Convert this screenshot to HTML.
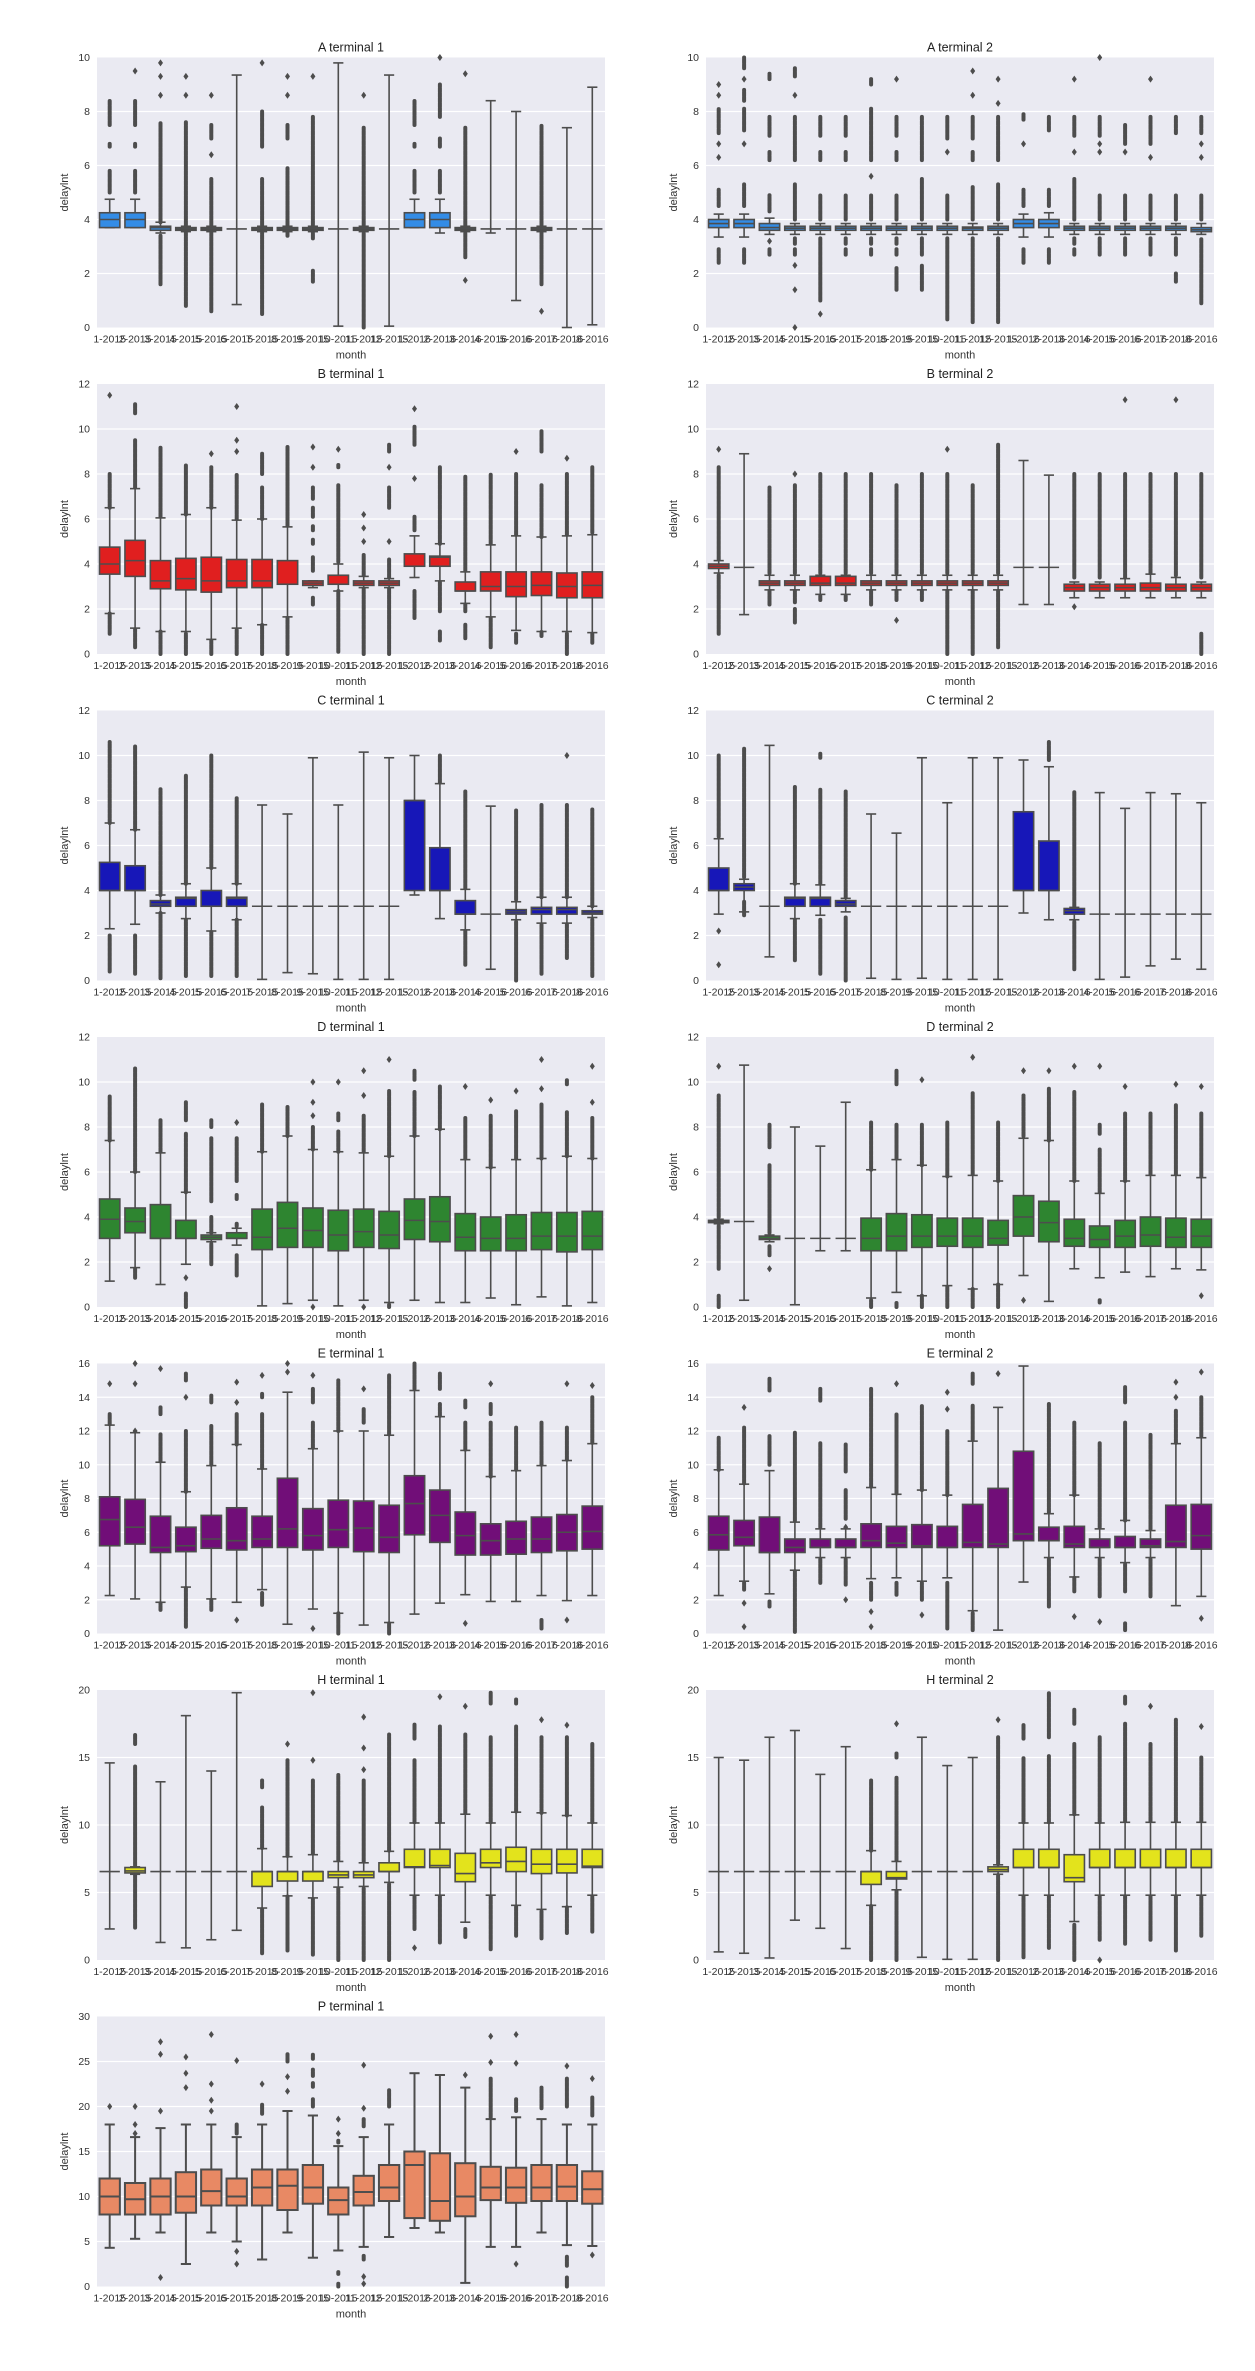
<!DOCTYPE html>
<html><head><meta charset="utf-8"><style>
html,body{margin:0;padding:0;background:#fff;}
svg{display:block;font-family:"Liberation Sans",sans-serif;}
</style></head>
<body>
<svg id="fig" width="1255" height="2371" viewBox="0 0 1255 2371" xmlns="http://www.w3.org/2000/svg"></svg>
<script>
const CATS=['1-2015','2-2015','3-2015','4-2015','5-2015','6-2015','7-2015','8-2015','9-2015','10-2015','11-2015','12-2015','1-2016','2-2016','3-2016','4-2016','5-2016','6-2016','7-2016','8-2016'];
const A_TICKS=[0,2,4,6,8,10];
const BCD_TICKS=[0,2,4,6,8,10,12];
const E_TICKS=[0,2,4,6,8,10,12,14,16];
const H_TICKS=[0,5,10,15,20];
const P_TICKS=[0,5,10,15,20,25,30];

const A1_box=[[3.7,3.7,4.0,4.25,4.75],[3.7,3.7,4.0,4.25,4.75],[3.5,3.6,3.7,3.75,3.9],[3.55,3.6,3.65,3.7,3.75],[3.55,3.6,3.65,3.7,3.75],[0.85,3.65,3.65,3.65,9.35],[3.55,3.6,3.65,3.7,3.75],[3.55,3.6,3.65,3.7,3.75],[3.55,3.6,3.65,3.7,3.75],[0.05,3.65,3.65,3.65,9.8],[3.55,3.6,3.65,3.7,3.75],[0.05,3.65,3.65,3.65,9.35],[3.7,3.7,4.0,4.25,4.75],[3.5,3.7,4.0,4.25,4.75],[3.55,3.6,3.65,3.7,3.75],[3.5,3.65,3.65,3.65,8.4],[1.0,3.65,3.65,3.65,8.0],[3.55,3.6,3.65,3.7,3.75],[0,3.65,3.65,3.65,7.4],[0.1,3.65,3.65,3.65,8.9]];
const A1_out=[[[5,5.8],[6.7,6.8],[7.5,8.4]],[[5,5.8],[6.7,6.8],[7.5,8.4],9.5],[[1.6,3.4],[3.9,7.6],8.6,9.3,9.8],[[0.8,3.5],[3.8,7.6],8.6,9.3],[[0.6,3.5],[3.8,5.5],6.4,[7.0,7.5],8.6],[],[[0.5,3.5],[3.8,5.5],[6.7,8.0],9.8],[[3.4,3.5],[3.8,5.9],[7.0,7.5],8.6,9.3],[[1.7,2.1],[3.3,3.5],[3.8,7.8],9.3],[],[[0,3.5],[3.8,7.4],8.6],[],[[5,5.8],[6.7,6.8],[7.5,8.4]],[[5,5.8],[6.7,7.0],[7.8,9.0],10],[1.75,[2.6,3.5],[3.8,7.4],9.4],[],[],[0.6,[1.6,3.5],[3.8,7.5]],[],[]];

const A2_box=[[3.35,3.7,3.85,4.0,4.2],[3.35,3.7,3.85,4.0,4.2],[3.45,3.6,3.7,3.85,4.05],[3.45,3.6,3.68,3.75,3.85],[3.45,3.6,3.68,3.75,3.85],[3.45,3.6,3.68,3.75,3.85],[3.45,3.6,3.68,3.75,3.85],[3.45,3.6,3.68,3.75,3.85],[3.45,3.6,3.68,3.75,3.85],[3.45,3.6,3.68,3.75,3.85],[3.45,3.6,3.68,3.72,3.85],[3.45,3.6,3.68,3.75,3.85],[3.35,3.7,3.85,4.0,4.2],[3.35,3.7,3.85,4.0,4.25],[3.45,3.6,3.68,3.75,3.85],[3.45,3.6,3.68,3.75,3.85],[3.45,3.6,3.68,3.75,3.85],[3.45,3.6,3.68,3.75,3.85],[3.45,3.6,3.68,3.75,3.85],[3.45,3.55,3.62,3.7,3.85]];
const A2_out=[[[2.4,2.9],[4.5,5.1],6.3,6.8,[7.2,8.1],8.6,9.0],[[2.4,2.9],[4.5,5.3],6.8,[7.3,8.1],[8.4,8.8],9.2,[9.6,10]],[[2.7,2.9],3.2,[4.3,4.9],[6.2,6.5],[7.1,7.8],[9.2,9.4]],[0,1.4,2.3,[2.7,2.9],[3.1,3.3],[4.0,5.3],[6.2,7.8],8.6,[9.3,9.6]],[0.5,[1.0,3.3],[4.0,4.9],[6.2,6.5],[7.1,7.8]],[[2.7,2.9],[3.1,3.3],[4.0,4.9],[6.2,6.5],[7.1,7.8]],[[2.7,2.9],[3.1,3.3],[4.0,4.9],5.6,[6.2,8.1],[9.0,9.2]],[[1.4,2.2],[2.7,2.9],[3.1,3.3],[4.0,4.9],[6.2,6.5],[7.1,7.8],9.2],[[1.4,2.3],[2.7,3.3],[4.0,5.5],[6.2,7.8]],[[0.3,3.3],[4.0,4.9],6.5,[7.0,7.8]],[[0.2,3.3],[4.0,5.2],[6.2,6.5],[7.0,7.8],8.6,9.5],[[0.2,3.3],[4.0,5.3],[6.2,7.8],8.3,9.2],[[2.4,2.9],[4.5,5.1],6.8,[7.7,7.9]],[[2.4,2.9],[4.5,5.1],[7.3,7.8]],[[2.7,2.9],[3.1,3.3],[4.0,5.5],6.5,[7.1,7.8],9.2],[[2.7,3.3],[4.0,4.9],6.5,6.8,[7.1,7.8],10],[[2.7,3.3],[4.0,4.9],6.5,[6.8,7.5]],[[2.7,3.3],[4.0,4.9],6.3,[6.8,7.8],9.2],[[1.7,2.0],[2.7,3.3],[4.0,4.9],[7.2,7.8]],[[0.9,3.3],[4.0,4.9],6.3,6.8,[7.2,7.8]]];

const B1_box=[[1.8,3.55,4.0,4.75,6.5],[1.15,3.45,4.15,5.05,7.35],[1.0,2.9,3.25,4.15,6.05],[1.0,2.85,3.35,4.25,6.2],[0.65,2.75,3.25,4.3,6.5],[1.15,2.95,3.25,4.2,5.95],[1.3,2.95,3.25,4.2,6.0],[1.65,3.1,3.1,4.15,5.65],[2.95,3.05,3.15,3.25,3.25],[2.8,3.1,3.1,3.5,4.0],[2.95,3.05,3.15,3.25,3.45],[2.95,3.05,3.15,3.25,3.35],[3.4,3.9,3.9,4.45,5.25],[3.25,3.9,4.3,4.35,4.9],[2.25,2.8,2.8,3.2,3.65],[1.65,2.8,3.0,3.65,4.85],[1.05,2.55,3.0,3.65,5.25],[1.0,2.6,3.05,3.65,5.2],[1.0,2.5,3.0,3.6,5.25],[0.95,2.5,3.05,3.65,5.3]];
const B1_out=[[[0.9,1.8],[6.5,8.0],11.5],[[0.3,1.1],[7.4,9.5],[10.7,11.1]],[[0,1.0],[6.1,9.2]],[[0,0.9],[6.2,8.4]],[[0,0.6],[6.5,8.3],8.9],[[0,1.1],[6.0,8.0],9.0,9.5,11.0],[[0,1.3],[6.0,7.4],[8.0,8.9]],[[0,1.6],[5.7,9.2]],[[2.2,2.5],[3.7,4.3],[4.9,5.1],[5.5,5.7],[6.1,6.5],[6.9,7.4],8.3,9.2],[[0.1,2.8],[4.1,7.5],[8.3,8.4],9.1],[[0,2.9],[3.5,4.4],5.0,5.6,6.2],[[0,2.9],[3.4,4.2],5.0,[6.5,7.4],8.3,[9.0,9.3]],[[1.6,2.8],[5.5,6.1],7.8,[9.3,10.1],10.9],[[0.6,1.0],[1.9,3.2],[4.9,8.3]],[[0.7,1.3],[1.9,2.2],[3.7,7.9]],[[0.3,1.6],[4.9,8.0]],[[0.5,0.9],[5.3,8.0],9.0],[[0.8,1.0],[5.2,7.5],[9.0,9.9]],[[0,0.9],[5.3,8.0],8.7],[[0.5,0.9],[5.4,8.3]]];

const B2_box=[[3.6,3.8,3.9,4.0,4.15],[1.75,3.85,3.85,3.85,8.9],[2.85,3.05,3.15,3.25,3.5],[2.85,3.05,3.15,3.25,3.5],[2.65,3.05,3.15,3.45,3.5],[2.65,3.05,3.15,3.45,3.5],[2.85,3.05,3.15,3.25,3.5],[2.85,3.05,3.15,3.25,3.5],[2.85,3.05,3.15,3.25,3.5],[2.85,3.05,3.15,3.25,3.5],[2.85,3.05,3.15,3.25,3.5],[2.85,3.05,3.15,3.25,3.5],[2.2,3.85,3.85,3.85,8.6],[2.2,3.85,3.85,3.85,7.95],[2.5,2.8,2.95,3.1,3.2],[2.5,2.8,2.95,3.1,3.2],[2.5,2.8,2.95,3.1,3.35],[2.5,2.8,2.95,3.15,3.55],[2.5,2.8,2.95,3.1,3.4],[2.5,2.8,2.95,3.1,3.2]];
const B2_out=[[[0.9,3.5],[4.2,8.3],9.1],[],[[2.2,2.8],[3.6,7.4]],[[1.4,2.0],[2.3,2.8],[3.6,7.5],8.0],[[2.4,2.6],[3.6,8.0]],[[2.4,2.6],[3.6,8.0]],[[2.2,2.8],[3.6,8.0]],[1.5,[2.4,2.8],[3.6,7.5]],[[2.4,2.8],[3.6,8.0]],[[0,2.8],[3.6,8.0],9.1],[[0,2.8],[3.6,7.5]],[[0.3,2.8],[3.6,9.3]],[],[],[2.1,[3.4,8.0]],[[3.4,8.0]],[[3.4,8.0],11.3],[[3.6,8.0]],[[3.5,8.0],11.3],[[0,0.9],[3.4,8.0]]];

const C1_box=[[2.3,4.0,4.0,5.25,7.0],[2.5,4.0,4.0,5.1,6.7],[3.0,3.3,3.4,3.55,3.8],[2.75,3.3,3.65,3.7,4.3],[2.2,3.3,3.3,4.0,5.0],[2.7,3.3,3.65,3.7,4.3],[0.05,3.3,3.3,3.3,7.8],[0.35,3.3,3.3,3.3,7.4],[0.3,3.3,3.3,3.3,9.9],[0.05,3.3,3.3,3.3,7.8],[0.05,3.3,3.3,3.3,10.15],[0.05,3.3,3.3,3.3,9.9],[3.8,4.0,8.0,8.0,10.0],[2.75,4.0,4.0,5.9,8.75],[2.25,2.95,2.95,3.55,4.05],[0.5,2.95,2.95,2.95,7.75],[2.7,2.95,3.05,3.15,3.5],[2.55,2.95,3.15,3.25,3.7],[2.55,2.95,3.15,3.25,3.7],[2.8,2.95,3.0,3.1,3.3]];
const C1_out=[[[0.4,2.0],[7.0,10.6]],[[0.3,2.0],[6.7,10.4]],[[0.1,3.0],[3.8,8.5]],[[0.2,2.7],[4.3,9.1]],[[0.2,2.2],[5.0,10.0]],[[0.2,2.7],[4.3,8.1]],[],[],[],[],[],[],[],[[8.8,10.0]],[[0.7,2.2],[4.1,8.4]],[],[[0,2.6],[3.6,7.6]],[[0.3,2.5],[3.7,7.8]],[[1.0,2.5],[3.7,7.8],10.0],[[0.2,2.7],[3.3,7.6]]];

const C2_box=[[2.95,4.0,4.0,5.0,6.3],[3.05,4.0,4.15,4.3,4.5],[1.05,3.3,3.3,3.3,10.45],[2.75,3.3,3.65,3.7,4.3],[2.9,3.3,3.65,3.7,4.25],[3.05,3.3,3.4,3.55,3.65],[0.1,3.3,3.3,3.3,7.4],[0.05,3.3,3.3,3.3,6.55],[0.1,3.3,3.3,3.3,9.9],[0.05,3.3,3.3,3.3,7.9],[0.05,3.3,3.3,3.3,9.9],[0.05,3.3,3.3,3.3,9.9],[3.0,4.0,4.0,7.5,9.8],[2.7,4.0,4.0,6.2,9.5],[2.7,2.95,3.1,3.2,3.25],[0.05,2.95,2.95,2.95,8.35],[0.15,2.95,2.95,2.95,7.65],[0.65,2.95,2.95,2.95,8.35],[0.95,2.95,2.95,2.95,8.3],[0.5,2.95,2.95,2.95,7.9]];
const C2_out=[[0.7,2.2,[6.4,10.0]],[[2.9,3.5],[4.6,10.3]],[],[[0.9,2.7],[4.3,8.6]],[[0.3,2.7],[4.3,8.5],[9.9,10.1]],[[0,2.8],[3.7,8.4]],[],[],[],[],[],[],[],[[9.8,10.6]],[[0.5,2.6],[3.3,8.4]],[],[],[],[],[]];

const D1_box=[[1.15,3.05,3.9,4.8,7.4],[1.75,3.3,3.8,4.4,6.0],[1.0,3.05,3.05,4.55,6.85],[1.9,3.05,3.05,3.85,5.1],[2.9,3.0,3.1,3.2,3.3],[2.75,3.05,3.05,3.3,3.5],[0.05,2.55,3.1,4.35,6.9],[0.15,2.65,3.5,4.65,7.6],[0.3,2.65,3.4,4.4,7.0],[0.05,2.5,3.2,4.3,6.9],[0.3,2.65,3.35,4.35,6.85],[0.2,2.6,3.2,4.25,6.7],[0.3,3.0,3.85,4.8,7.6],[0.2,2.9,3.8,4.9,7.9],[0.2,2.5,3.1,4.15,6.55],[0.4,2.5,3.05,4.0,6.2],[0.1,2.5,3.05,4.1,6.55],[0.45,2.55,3.15,4.2,6.6],[0.05,2.45,3.15,4.2,6.7],[0.2,2.55,3.15,4.25,6.6]];
const D1_out=[[[7.4,9.4]],[[1.3,1.7],[6.0,10.6]],[[6.9,8.3]],[[0,0.6],1.3,[5.1,7.7],[8.3,9.1]],[[1.9,2.8],[3.3,4.0],[4.7,7.5],[8.0,8.3]],[[1.4,2.3],[3.6,3.7],[4.8,5.0],[5.6,7.5],8.2],[[6.9,9.0]],[[7.6,8.9]],[0,[7.0,8.0],8.5,9.1,10.0],[[6.9,7.8],[8.3,8.6],10.0],[0,[6.9,8.5],9.4,10.5],[[0,0.1],[6.7,9.6],11.0],[[7.6,9.6],[10.1,10.5]],[[7.9,9.8]],[[6.6,8.4],9.8],[[6.2,8.5],9.2],[[6.6,8.7],9.6],[[6.6,9.0],9.7,11.0],[[6.7,8.7],[9.9,10.1]],[[6.6,8.4],9.1,10.7]];

const D2_box=[[3.7,3.75,3.8,3.85,3.9],[0.3,3.8,3.8,3.8,10.75],[2.9,3.0,3.05,3.15,3.2],[0.1,3.05,3.05,3.05,8.0],[2.5,3.05,3.05,3.05,7.15],[2.5,3.05,3.05,3.05,9.1],[0.4,2.5,3.05,3.95,6.1],[0.65,2.5,3.15,4.15,6.55],[0.5,2.65,3.15,4.1,6.3],[0.95,2.7,3.15,3.95,5.8],[0.8,2.65,3.15,3.95,5.85],[1.0,2.75,3.05,3.85,5.6],[1.4,3.15,4.0,4.95,7.5],[0.25,2.9,3.75,4.7,7.4],[1.7,2.7,3.05,3.9,5.6],[1.3,2.65,3.0,3.6,5.05],[1.55,2.65,3.15,3.85,5.6],[1.35,2.7,3.2,4.0,5.85],[1.7,2.65,3.1,3.95,5.85],[1.65,2.65,3.15,3.9,5.75]];
const D2_out=[[[0,0.5],[1.7,3.6],[4.0,9.4],10.7],[],[1.7,[2.3,2.7],[3.3,6.3],[7.1,8.1]],[],[],[],[[0,0.3],[6.1,8.2]],[[0,0.2],[6.6,8.1],[9.9,10.5]],[[0,0.5],[6.3,8.1],10.1],[[0,0.9],[5.8,8.2]],[[0,0.8],[5.9,9.5],11.1],[[0,1.0],[5.6,8.2]],[0.3,[7.6,9.4],10.5],[[7.4,9.7],10.5],[[5.6,9.6],10.7],[[0.2,0.3],[5.1,7.0],[7.7,8.1],10.7],[[5.6,8.6],9.8],[[5.9,8.6]],[[5.9,9.0],9.9],[0.5,[5.8,8.6],9.8]];

const E1_box=[[2.25,5.2,6.75,8.1,12.35],[2.05,5.3,6.3,7.95,11.9],[1.85,4.8,5.1,6.95,10.15],[2.75,4.85,5.2,6.3,8.4],[2.05,5.05,5.6,7.0,9.95],[1.85,4.95,5.5,7.45,11.2],[2.6,5.1,5.6,6.95,9.75],[0.55,5.1,6.2,9.2,14.3],[1.45,4.95,5.8,7.4,10.95],[1.2,5.1,6.15,7.9,12.0],[0.5,4.85,6.25,7.85,12.0],[0.65,4.8,5.7,7.6,11.75],[1.15,5.85,7.7,9.35,14.4],[1.8,5.4,7.0,8.5,12.85],[2.3,4.65,5.8,7.2,10.85],[1.9,4.65,5.5,6.5,9.3],[1.9,4.7,5.6,6.65,9.65],[2.25,4.8,5.6,6.9,9.95],[1.95,4.9,6.0,7.05,10.25],[2.25,5.0,6.05,7.55,11.25]];
const E1_out=[[[12.4,13.0],14.8],[12.0,14.8,16.0],[[1.4,1.8],[10.2,11.8],[13.0,13.4],15.7],[[0.4,2.7],[8.4,12.0],14.0,[15.0,15.4]],[[1.4,2.0],[10.0,12.3],[13.7,14.1]],[0.8,[11.2,13.0],13.7,14.9],[[1.7,2.4],[9.8,13.0],[14.0,14.2],15.3],[15.5,16],[0.3,[11.0,12.5],[13.7,14.5],15.3],[[0,1.2],[12.0,15.0]],[[12.5,13.3],14.5],[[0,0.6],[11.8,15.3]],[[14.5,16]],[[12.9,13.6],[14.5,15.4]],[0.6,[10.9,12.5],[13.4,13.8]],[[9.3,12.5],[13.0,13.6],14.8],[[9.7,12.2]],[[0.3,0.8],[10.0,12.5]],[0.8,[10.3,12.2],14.8],[[11.3,14.0],14.7]];

const E2_box=[[2.25,4.95,5.85,6.95,9.7],[3.1,5.2,5.7,6.7,8.85],[2.35,4.8,4.8,6.9,9.65],[3.75,4.8,5.1,5.6,6.6],[4.5,5.1,5.1,5.6,6.2],[4.5,5.1,5.1,5.6,6.2],[3.25,5.1,5.5,6.5,8.65],[3.3,5.1,5.35,6.35,8.25],[3.1,5.1,5.2,6.45,8.5],[3.3,5.1,5.1,6.35,8.2],[1.35,5.1,5.4,7.65,11.4],[0.2,5.1,5.3,8.6,13.4],[3.05,5.5,5.9,10.8,15.85],[4.5,5.5,5.5,6.3,7.1],[3.35,5.1,5.3,6.35,8.2],[4.5,5.1,5.1,5.6,6.2],[4.2,5.1,5.1,5.75,6.7],[4.5,5.1,5.2,5.6,6.1],[1.65,5.1,5.45,7.6,11.25],[2.2,5.0,5.8,7.65,11.6]];
const E2_out=[[[9.7,11.6]],[0.4,1.8,[2.6,3.0],[8.9,12.2],13.4],[[1.6,1.9],[10.0,11.7],[14.4,15.1]],[[0.1,3.7],[6.7,11.9]],[[3.0,4.4],[6.3,11.3],[13.8,14.5]],[2.0,[2.9,4.4],6.3,[6.8,8.5],[9.6,11.2]],[0.4,1.3,[2.0,3.0],[8.7,14.5]],[[2.3,3.0],[8.3,13.0],14.8],[1.1,[2.0,3.0],[8.5,13.5]],[[0.3,3.0],[8.2,12.0],13.3,14.3],[[0.2,1.2],[11.5,13.5],[14.8,15.4]],[15.4],[],[[1.6,4.4],[7.2,13.6]],[1.0,[2.5,3.3],[8.2,12.5]],[0.7,[2.2,4.4],[6.3,11.3]],[[0.2,0.6],[2.5,4.1],[6.7,12.5],[13.7,14.6]],[[2.2,4.4],[6.2,11.8]],[[11.3,13.2],14.0,14.9],[0.9,[11.7,14.0],15.5]];

const H1_box=[[2.3,6.55,6.55,6.55,14.6],[6.35,6.45,6.6,6.85,6.9],[1.3,6.55,6.55,6.55,13.2],[0.9,6.55,6.55,6.55,18.1],[1.5,6.55,6.55,6.55,14.0],[2.2,6.55,6.55,6.55,19.8],[3.85,5.45,6.55,6.55,8.25],[4.75,5.85,6.55,6.55,7.65],[4.6,5.85,6.55,6.55,7.8],[5.4,6.1,6.3,6.55,7.3],[5.45,6.1,6.3,6.55,7.2],[5.75,6.55,6.55,7.2,8.05],[4.8,6.85,6.9,8.2,10.15],[4.8,6.85,7.0,8.2,10.15],[2.8,5.8,6.4,7.9,10.8],[4.8,6.85,7.2,8.2,10.15],[4.05,6.55,7.3,8.35,10.95],[3.75,6.4,7.1,8.2,10.9],[3.95,6.45,7.1,8.2,10.7],[4.8,6.85,6.95,8.2,10.15]];
const H1_out=[[],[[2.4,6.3],[7.0,14.4],[16.0,16.7]],[],[],[],[],[[0.5,3.8],[8.3,11.3],[12.8,13.3]],[[0.7,4.7],[7.7,14.8],16.0],[[0.4,4.5],[7.9,13.3],14.8,19.8],[[0,5.3],[7.4,13.7]],[[0,5.3],[7.3,13.3],14.1,15.7,18.0],[[0,5.6],[8.1,16.7]],[0.9,[2.3,4.7],[10.2,14.8],[16.4,17.5]],[[1.3,4.7],[10.2,17.3],19.5],[[1.7,2.3],[10.9,16.7],18.8],[[0.8,4.7],[10.2,16.5],[19.0,19.8]],[[1.8,4.0],[11.0,17.3],[19.0,19.3]],[[1.6,3.6],[10.9,16.5],17.8],[[2.0,3.9],[10.7,16.5],17.4],[[2.1,4.7],[10.2,16.0]]];

const H2_box=[[0.6,6.55,6.55,6.55,15.0],[0.5,6.55,6.55,6.55,14.8],[0.15,6.55,6.55,6.55,16.5],[2.95,6.55,6.55,6.55,17.0],[2.35,6.55,6.55,6.55,13.75],[0.85,6.55,6.55,6.55,15.8],[4.05,5.6,6.55,6.55,8.1],[5.2,6.0,6.1,6.55,7.3],[0.2,6.55,6.55,6.55,16.5],[0.05,6.55,6.55,6.55,14.4],[0.05,6.55,6.55,6.55,15.0],[6.35,6.55,6.7,6.9,7.05],[4.8,6.85,6.85,8.2,10.15],[4.8,6.85,6.85,8.2,10.15],[2.85,5.8,6.1,7.8,10.75],[4.8,6.85,6.85,8.2,10.15],[4.8,6.85,6.85,8.2,10.2],[4.8,6.85,6.85,8.2,10.2],[4.8,6.85,6.85,8.2,10.2],[4.8,6.85,6.85,8.2,10.2]];
const H2_out=[[],[],[],[],[],[],[[0,4.0],[8.1,13.3]],[[0,5.1],[7.4,13.5],[15.0,15.3],17.5],[],[],[],[[0,6.3],[7.1,16.5],17.8],[[0.2,4.7],[10.2,15.0],[16.4,17.4]],[[0.9,4.7],[10.2,15.1],[16.5,19.8]],[[0,2.6],[10.8,16.0],[17.5,18.6]],[0,[1.5,4.7],[10.2,16.5]],[[1.2,4.7],[10.3,17.5],[19.0,19.5]],[[1.5,4.7],[10.3,16.0],18.8],[[0.7,4.7],[10.3,17.8]],[[1.8,4.7],[10.3,15.0],17.3]];

const P1_box=[[4.3,8.0,10.0,12.0,18.0],[5.3,8.0,9.7,11.5,16.6],[6.0,8.0,10.0,12.0,17.6],[2.5,8.2,10.0,12.7,18.0],[6.0,9.0,10.6,13.0,18.0],[5.0,9.0,10.0,12.0,16.6],[3.0,9.0,11.0,13.0,18.0],[6.0,8.5,11.2,13.0,19.5],[3.2,9.2,11.0,13.5,19.0],[4.0,8.0,9.6,11.0,15.6],[4.4,9.0,10.5,12.3,16.6],[5.5,9.5,11.0,13.5,18.0],[6.5,7.6,13.5,15.0,23.7],[6.0,7.3,9.5,14.8,23.5],[0.4,7.8,10.0,13.7,22.1],[4.4,9.6,11.0,13.3,18.6],[4.4,9.3,11.0,13.2,18.8],[6.0,9.5,11.0,13.5,18.6],[4.6,9.5,11.1,13.5,18.0],[4.5,9.2,10.8,12.8,18.0]];
const P1_out=[[20.0],[17,18,20],[1.0,19.5,25.8,27.2],[22.1,23.7,25.5],[19.5,20.7,22.5,28.0],[2.5,3.9,[17.0,18.0],25.1],[[19.2,20.2],22.5],[21.7,23.3,[25.0,25.8]],[[20.0,20.8],[22.2,22.6],[23.4,24.1],[25.3,25.8]],[[0,0.3],[1.4,1.6],[16.0,16.2],17.0,18.6],[0.3,1.1,[3.0,3.4],[17.8,18.6],19.8,24.6],[[20.0,21.8]],[],[],[23.5],[[18.8,23.1],24.9,27.8],[2.5,[19.5,20.8],24.8,28.0],[[19.8,22.1]],[[0,1.0],[2.3,3.3],[20.0,23.1],24.5],[3.5,[19.0,21.0],23.1]];

const PLOTS=[
 {key:'A1',title:'A terminal 1',col:0,row:0,ymax:10,ticks:A_TICKS,color:'#338ce6',box:A1_box,out:A1_out,lw:1.6},
 {key:'A2',title:'A terminal 2',col:1,row:0,ymax:10,ticks:A_TICKS,color:'#338ce6',box:A2_box,out:A2_out,lw:1.6},
 {key:'B1',title:'B terminal 1',col:0,row:1,ymax:12,ticks:BCD_TICKS,color:'#e01f1f',box:B1_box,out:B1_out,lw:1.6},
 {key:'B2',title:'B terminal 2',col:1,row:1,ymax:12,ticks:BCD_TICKS,color:'#e01f1f',box:B2_box,out:B2_out,lw:1.6},
 {key:'C1',title:'C terminal 1',col:0,row:2,ymax:12,ticks:BCD_TICKS,color:'#1717b8',box:C1_box,out:C1_out,lw:1.6},
 {key:'C2',title:'C terminal 2',col:1,row:2,ymax:12,ticks:BCD_TICKS,color:'#1717b8',box:C2_box,out:C2_out,lw:1.6},
 {key:'D1',title:'D terminal 1',col:0,row:3,ymax:12,ticks:BCD_TICKS,color:'#2e8530',box:D1_box,out:D1_out,lw:1.6},
 {key:'D2',title:'D terminal 2',col:1,row:3,ymax:12,ticks:BCD_TICKS,color:'#2e8530',box:D2_box,out:D2_out,lw:1.6},
 {key:'E1',title:'E terminal 1',col:0,row:4,ymax:16,ticks:E_TICKS,color:'#710e78',box:E1_box,out:E1_out,lw:1.6},
 {key:'E2',title:'E terminal 2',col:1,row:4,ymax:16,ticks:E_TICKS,color:'#710e78',box:E2_box,out:E2_out,lw:1.6},
 {key:'H1',title:'H terminal 1',col:0,row:5,ymax:20,ticks:H_TICKS,color:'#e3e31c',box:H1_box,out:H1_out,lw:1.6},
 {key:'H2',title:'H terminal 2',col:1,row:5,ymax:20,ticks:H_TICKS,color:'#e3e31c',box:H2_box,out:H2_out,lw:1.6},
 {key:'P1',title:'P terminal 1',col:0,row:6,ymax:30,ticks:P_TICKS,color:'#e88964',box:P1_box,out:P1_out,lw:2}
];

const NS='http://www.w3.org/2000/svg';
const svg=document.getElementById('fig');
function mk(tag,attrs,parent){const e=document.createElementNS(NS,tag);for(const k in attrs)e.setAttribute(k,attrs[k]);parent.appendChild(e);return e;}
const LEFTS=[97,706], W=508, H=270, TOP0=57.5, ROWSTEP=326.5;
const LC='#4d4d4d';

PLOTS.forEach(p=>{
  const L=LEFTS[p.col], T=TOP0+ROWSTEP*p.row;
  const g=mk('g',{},svg);
  
  
  const bg=mk('rect',{x:L,y:T,width:W,height:H,fill:'#eaeaf2'},g);
  
  
  const yS=v=>T+H*(1-v/p.ymax);
  const xS=i=>L+(i+0.5)*W/CATS.length;
  const bw=0.8*W/CATS.length;
  p.ticks.forEach(t=>{
    if(t>0&&t<p.ymax){const gl=mk('line',{x1:L,x2:L+W,y1:yS(t),y2:yS(t),stroke:'#fff','stroke-width':1.3},g);
      
      }
    const tl=mk('text',{x:L-7,y:yS(t)+3.5,'text-anchor':'end','font-size':10.5,fill:'#333'},g);
    tl.textContent=t;
    
    
  });
  CATS.forEach((c,i)=>{
    const tl=mk('text',{x:xS(i),y:T+H+15,'text-anchor':'middle','font-size':10.5,fill:'#333'},g);
    tl.textContent=c;
    
    
  });
  const tt=mk('text',{x:L+W/2,y:T-6,'text-anchor':'middle','font-size':12.5,fill:'#222'},g);
  tt.textContent=p.title;
  
  
  const xl=mk('text',{x:L+W/2,y:T+H+31,'text-anchor':'middle','font-size':11,fill:'#333'},g);
  xl.textContent='month';
  
  
  const yl=mk('text',{x:0,y:0,'text-anchor':'middle','font-size':11,fill:'#333',transform:`translate(${L-29},${T+H/2}) rotate(-90)`},g);
  yl.textContent='delaylnt';
  
  

  p.box.forEach((b,i)=>{
    const [lo,q1,md,q3,hi]=b, cx=xS(i);
    const bg2=mk('g',{},g);
    
    
    (p.out[i]||[]).forEach(o=>{
      if(Array.isArray(o)){
        const ol=mk('line',{x1:cx,x2:cx,y1:yS(o[0]),y2:yS(o[1]),stroke:LC,'stroke-width':4,'stroke-linecap':'round','stroke-dasharray':'4 1'},bg2);
        
        
      } else {
        const y=yS(o);
        const od=mk('path',{d:`M${cx} ${y-3.5}L${cx+2.5} ${y}L${cx} ${y+3.5}L${cx-2.5} ${y}Z`,fill:LC},bg2);
        
        
      }
    });
    mk('line',{x1:cx,x2:cx,y1:yS(q1),y2:yS(lo),stroke:LC,'stroke-width':p.lw},bg2);
    mk('line',{x1:cx,x2:cx,y1:yS(q3),y2:yS(hi),stroke:LC,'stroke-width':p.lw},bg2);
    mk('line',{x1:cx-bw/4,x2:cx+bw/4,y1:yS(lo),y2:yS(lo),stroke:LC,'stroke-width':p.lw},bg2);
    mk('line',{x1:cx-bw/4,x2:cx+bw/4,y1:yS(hi),y2:yS(hi),stroke:LC,'stroke-width':p.lw},bg2);
    const bh=Math.max(yS(q1)-yS(q3),0);
    if(bh>0){mk('rect',{x:cx-bw/2,y:yS(q3),width:bw,height:bh,fill:p.color,stroke:LC,'stroke-width':p.lw},bg2);}
    mk('line',{x1:cx-bw/2,x2:cx+bw/2,y1:yS(md),y2:yS(md),stroke:LC,'stroke-width':p.lw},bg2);
  });
});
</script>
</body></html>
